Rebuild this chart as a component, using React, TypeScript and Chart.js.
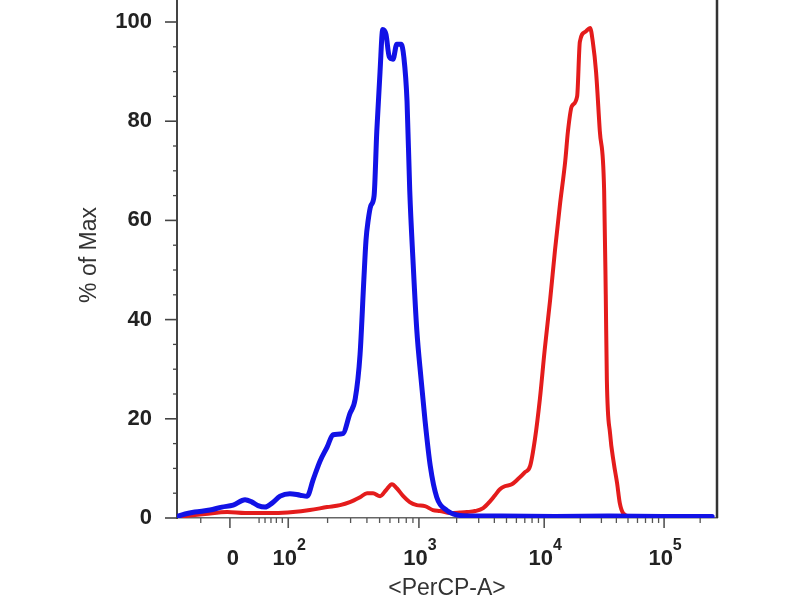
import React, { useEffect, useRef } from "react";
import { Chart, registerables } from "chart.js";

Chart.register(...registerables);

// X values are PerCP-A positions on the biexponential display scale (channels 0–1000),
// Y values are "% of Max".
const blueChannel = [0, 15, 33, 61, 83, 104, 126, 139, 150, 163, 176, 191, 209, 228, 241, 252, 265, 278, 289, 307, 320, 330, 339, 346, 350, 354, 359, 365, 370, 376, 381, 387, 393, 400, 407, 415, 420, 426, 431, 437, 444, 452, 459, 469, 481, 500, 519, 543, 600, 700, 800, 900, 991];
const bluePercent = [0.3, 0.8, 1.2, 1.6, 2.2, 2.6, 3.7, 3.2, 2.5, 2.2, 3.0, 4.4, 4.9, 4.6, 4.4, 7.7, 11.5, 14.3, 16.8, 17.0, 21, 24, 33, 48, 56, 60, 63, 65, 78, 90, 98.5, 97.5, 93, 92.5, 95.5, 95.5, 93, 84, 66, 52, 38, 28, 20, 10.5, 4.2, 1.5, 0.6, 0.4, 0.4, 0.3, 0.4, 0.3, 0.3];

const redChannel = [0, 24, 52, 93, 126, 154, 181, 215, 246, 278, 302, 320, 339, 352, 363, 376, 387, 398, 407, 419, 431, 444, 459, 474, 487, 506, 524, 537, 552, 567, 580, 589, 598, 607, 620, 631, 644, 654, 663, 672, 681, 691, 700, 709, 719, 724, 731, 741, 746, 756, 765, 770, 776, 783, 791, 794, 796, 802, 809, 815, 820, 826, 839, 900, 991];
const redPercent = [0.2, 0.5, 0.8, 1.2, 1.0, 1.0, 1.0, 1.2, 1.6, 2.2, 2.6, 3.2, 4.2, 5.0, 5.0, 4.4, 5.6, 6.8, 6.0, 4.4, 3.2, 2.6, 2.4, 1.6, 1.4, 1.0, 1.1, 1.2, 1.4, 2.0, 3.4, 4.6, 5.8, 6.4, 6.8, 7.8, 9.2, 10.5, 16, 24, 34, 44, 54, 63, 72, 78, 83, 85, 96, 98, 98.8, 96, 90, 78, 66, 45, 28, 17, 11, 7, 3, 1, 0.3, 0.2, 0.2];

const xTickChannels = [98, 206, 448, 680, 902];
const xTickBases = ["0", "10", "10", "10", "10"];
const xTickExponents = ["", "2", "3", "4", "5"];
const xLinearMinorChannels = [44, 152, 163, 174, 184, 195];
const yTickValues = [0, 20, 40, 60, 80, 100];
const yMinorValues = [5, 10, 15, 25, 30, 35, 45, 50, 55, 65, 70, 75, 85, 90, 95, 105];

const BLUE = "#1212e6";
const RED = "#e41c1c";
const FONT = "'Liberation Sans', Arial, Helvetica, sans-serif";

function decadeMinors(): number[] {
  const decades = xTickChannels.slice(1);
  const out: number[] = [];
  for (let d = 0; d < decades.length; d++) {
    const a = decades[d];
    const b = d + 1 < decades.length ? decades[d + 1] : a + (decades[d] - decades[d - 1]);
    for (let k = 2; k <= 9; k++) {
      const v = a + (b - a) * Math.log10(k);
      if (v <= 1000) out.push(v);
    }
  }
  return out;
}

const tickPlugin = {
  id: "facsTicks",
  afterDraw(chart: any) {
    const { ctx, chartArea, scales } = chart;
    const x = scales.x;
    const y = scales.y;
    const line = (x1: number, y1: number, x2: number, y2: number) => {
      ctx.beginPath();
      ctx.moveTo(x1, y1);
      ctx.lineTo(x2, y2);
      ctx.stroke();
    };
    ctx.save();
    ctx.strokeStyle = "#444";
    ctx.lineWidth = 1.6;
    yTickValues.forEach((v) => {
      const p = y.getPixelForValue(v);
      line(chartArea.left - 12, p, chartArea.left, p);
    });
    ctx.lineWidth = 1.3;
    yMinorValues.forEach((v) => {
      const p = y.getPixelForValue(v);
      if (p >= chartArea.top) line(chartArea.left - 4, p, chartArea.left, p);
    });
    ctx.strokeStyle = "#555";
    ctx.lineWidth = 1.6;
    xTickChannels.forEach((v) => {
      const p = x.getPixelForValue(v);
      line(p, chartArea.bottom, p, chartArea.bottom + 10);
    });
    ctx.lineWidth = 1.3;
    [...xLinearMinorChannels, ...decadeMinors()].forEach((v) => {
      const p = x.getPixelForValue(v);
      line(p, chartArea.bottom, p, chartArea.bottom + 5);
    });
    ctx.strokeStyle = "#333";
    ctx.lineWidth = 2.5;
    line(chartArea.right, chartArea.top, chartArea.right, chartArea.bottom);
    line(chartArea.left, chartArea.top, chartArea.right, chartArea.top);

    // x tick labels with raised exponents
    ctx.fillStyle = "#222";
    ctx.textBaseline = "middle";
    ctx.textAlign = "left";
    const baseFont = `bold 22px ${FONT}`;
    const expFont = `bold 16px ${FONT}`;
    const yBase = chartArea.bottom + 41;
    xTickChannels.forEach((v, i) => {
      const p = x.getPixelForValue(v);
      ctx.font = baseFont;
      const w1 = ctx.measureText(xTickBases[i]).width;
      ctx.font = expFont;
      const w2 = xTickExponents[i] ? ctx.measureText(xTickExponents[i]).width : 0;
      const start = p - (w1 + w2) / 2 + (xTickExponents[i] ? 1 : 3);
      ctx.font = baseFont;
      ctx.fillText(xTickBases[i], start, yBase);
      if (xTickExponents[i]) {
        ctx.font = expFont;
        ctx.fillText(xTickExponents[i], start + w1, yBase - 13);
      }
    });
    ctx.restore();
  },
};

export default function App() {
  const ref = useRef<HTMLCanvasElement>(null);

  useEffect(() => {
    const canvas = ref.current;
    if (!canvas) return;
    const chart = new Chart(canvas, {
      type: "line",
      data: {
        datasets: [
          {
            label: "Control",
            data: blueChannel.map((c, i) => ({ x: c, y: bluePercent[i] })),
            borderColor: BLUE,
            backgroundColor: BLUE,
            borderWidth: 5,
          },
          {
            label: "PerCP stained",
            data: redChannel.map((c, i) => ({ x: c, y: redPercent[i] })),
            borderColor: RED,
            backgroundColor: RED,
            borderWidth: 4,
          },
        ],
      },
      options: {
        responsive: false,
        animation: false,
        devicePixelRatio: 1,
        layout: { padding: { left: 0, right: 83, top: 0, bottom: 0 } },
        plugins: { legend: { display: false }, tooltip: { enabled: false } },
        elements: {
          point: { radius: 0 },
          line: { cubicInterpolationMode: "monotone", borderJoinStyle: "round", borderCapStyle: "round" },
        },
        scales: {
          x: {
            type: "linear",
            min: 0,
            max: 1000,
            grid: { display: false, drawTicks: false, tickLength: 0 },
            border: { display: true, color: "#666", width: 1.5 },
            afterBuildTicks: (s: any) => {
              s.ticks = xTickChannels.map((v) => ({ value: v }));
            },
            afterFit: (s: any) => {
              s.height = 82;
              s.paddingLeft = 0;
              s.paddingRight = 0;
            },
            ticks: { display: false },
            title: {
              display: true,
              text: "<PerCP-A>",
              color: "#333",
              font: { family: FONT, size: 23, lineHeight: 1 },
              padding: { top: 0, bottom: 0 },
            },
          },
          y: {
            type: "linear",
            min: 0,
            max: 106.05,
            grid: { display: false, drawTicks: false, tickLength: 0 },
            border: { display: true, color: "#444", width: 2 },
            afterBuildTicks: (s: any) => {
              s.ticks = yTickValues.map((v) => ({ value: v }));
            },
            afterFit: (s: any) => {
              s.width = 177;
              s.paddingTop = 0;
              s.paddingBottom = 0;
            },
            ticks: {
              padding: 25,
              color: "#222",
              font: { family: FONT, size: 22, weight: "bold" },
              callback: (v: any) => String(v),
            },
            title: {
              display: true,
              text: "% of Max",
              color: "#333",
              font: { family: FONT, size: 23, lineHeight: 1.2 },
              padding: { top: 76, bottom: 0 },
            },
          },
        },
      },
      plugins: [tickPlugin],
    } as any);
    return () => chart.destroy();
  }, []);

  return (
    <canvas
      ref={ref}
      width={800}
      height={608}
      style={{ position: "absolute", left: 0, top: -8, width: 800, height: 608, display: "block" }}
    />
  );
}
